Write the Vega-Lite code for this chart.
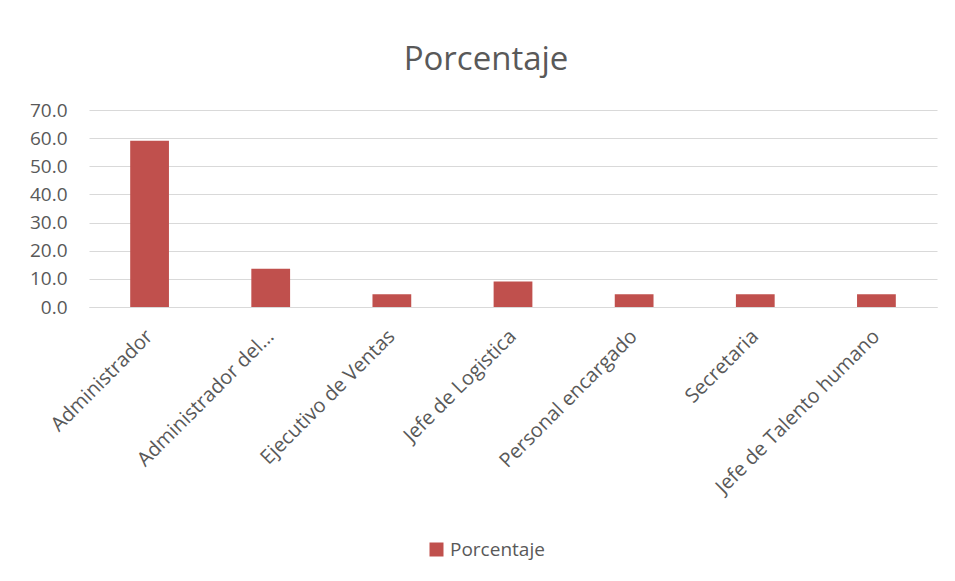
{
  "$schema": "https://vega.github.io/schema/vega-lite/v6.json",
  "autosize": "none",
  "width": 848,
  "height": 197,
  "padding": {"left": 89, "top": 110, "right": 18, "bottom": 274},
  "background": "white",
  "title": {
    "text": "Porcentaje",
    "font": "Open Sans",
    "fontSize": 33,
    "fontWeight": "normal",
    "color": "#595959",
    "anchor": "middle",
    "offset": 24,
    "dx": -27
  },
  "data": {
    "values": [
      {"cargo": "Administrador", "porcentaje": 59.1, "serie": "Porcentaje"},
      {"cargo": "Administrador del…", "porcentaje": 13.6, "serie": "Porcentaje"},
      {"cargo": "Ejecutivo de Ventas", "porcentaje": 4.5, "serie": "Porcentaje"},
      {"cargo": "Jefe de Logistica", "porcentaje": 9.1, "serie": "Porcentaje"},
      {"cargo": "Personal encargado", "porcentaje": 4.5, "serie": "Porcentaje"},
      {"cargo": "Secretaria", "porcentaje": 4.5, "serie": "Porcentaje"},
      {"cargo": "Jefe de Talento humano", "porcentaje": 4.5, "serie": "Porcentaje"}
    ]
  },
  "mark": {"type": "bar"},
  "encoding": {
    "x": {
      "field": "cargo",
      "type": "nominal",
      "sort": null,
      "scale": {"paddingInner": 0.68, "paddingOuter": 0.34},
      "axis": {
        "title": null,
        "labelAngle": -45,
        "labelAlign": "right",
        "labelBaseline": "middle",
        "labelFont": "Open Sans",
        "labelFontSize": 20,
        "labelColor": "#595959",
        "labelPadding": 26,
        "ticks": false,
        "domain": true,
        "domainColor": "#d9d9d9",
        "labelLimit": 300
      }
    },
    "y": {
      "field": "porcentaje",
      "type": "quantitative",
      "scale": {"domain": [0, 70], "nice": false},
      "axis": {
        "title": null,
        "values": [0, 10, 20, 30, 40, 50, 60, 70],
        "format": ".1f",
        "labelFont": "Open Sans",
        "labelFontSize": 19,
        "labelColor": "#595959",
        "labelPadding": 22,
        "ticks": false,
        "domain": false,
        "grid": true,
        "gridColor": "#d9d9d9",
        "gridWidth": 1
      }
    },
    "color": {
      "field": "serie",
      "type": "nominal",
      "scale": {"range": ["#c0504d"]},
      "legend": {
        "title": null,
        "orient": "none",
        "legendX": 338,
        "legendY": 430,
        "symbolType": "square",
        "symbolSize": 196,
        "labelFont": "Open Sans",
        "labelFontSize": 19,
        "labelColor": "#595959",
        "labelOffset": 4
      }
    }
  },
  "config": {"view": {"stroke": null}}
}
